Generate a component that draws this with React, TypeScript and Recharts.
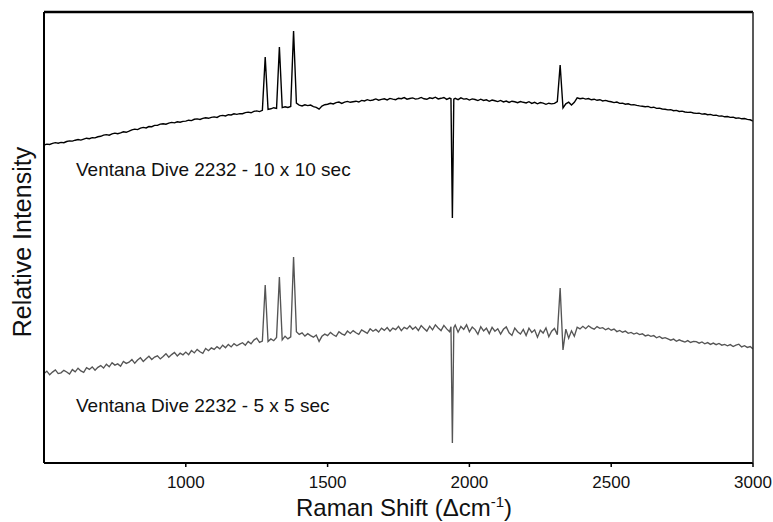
import React from 'react';
import { LineChart, Line, XAxis, YAxis } from 'recharts';

// Raman shift (cm^-1), sampled every 10 cm^-1 (extra samples around the 1940 spike)
const ramanShift = [
  500, 510, 520, 530, 540, 550, 560, 570, 580, 590,
  600, 610, 620, 630, 640, 650, 660, 670, 680, 690,
  700, 710, 720, 730, 740, 750, 760, 770, 780, 790,
  800, 810, 820, 830, 840, 850, 860, 870, 880, 890,
  900, 910, 920, 930, 940, 950, 960, 970, 980, 990,
  1000, 1010, 1020, 1030, 1040, 1050, 1060, 1070, 1080, 1090,
  1100, 1110, 1120, 1130, 1140, 1150, 1160, 1170, 1180, 1190,
  1200, 1210, 1220, 1230, 1240, 1250, 1260, 1270, 1280, 1290,
  1300, 1310, 1320, 1330, 1340, 1350, 1360, 1370, 1380, 1390,
  1400, 1410, 1420, 1430, 1440, 1450, 1460, 1470, 1480, 1490,
  1500, 1510, 1520, 1530, 1540, 1550, 1560, 1570, 1580, 1590,
  1600, 1610, 1620, 1630, 1640, 1650, 1660, 1670, 1680, 1690,
  1700, 1710, 1720, 1730, 1740, 1750, 1760, 1770, 1780, 1790,
  1800, 1810, 1820, 1830, 1840, 1850, 1860, 1870, 1880, 1890,
  1900, 1910, 1920, 1930, 1935, 1940, 1945, 1950, 1960, 1970, 1980, 1990,
  2000, 2010, 2020, 2030, 2040, 2050, 2060, 2070, 2080, 2090,
  2100, 2110, 2120, 2130, 2140, 2150, 2160, 2170, 2180, 2190,
  2200, 2210, 2220, 2230, 2240, 2250, 2260, 2270, 2280, 2290,
  2300, 2310, 2320, 2330, 2340, 2350, 2360, 2370, 2380, 2390,
  2400, 2410, 2420, 2430, 2440, 2450, 2460, 2470, 2480, 2490,
  2500, 2510, 2520, 2530, 2540, 2550, 2560, 2570, 2580, 2590,
  2600, 2610, 2620, 2630, 2640, 2650, 2660, 2670, 2680, 2690,
  2700, 2710, 2720, 2730, 2740, 2750, 2760, 2770, 2780, 2790,
  2800, 2810, 2820, 2830, 2840, 2850, 2860, 2870, 2880, 2890,
  2900, 2910, 2920, 2930, 2940, 2950, 2960, 2970, 2980, 2990,
  3000,
];

// Ventana Dive 2232 - 10 x 10 sec (relative intensity, offset trace)
const topTrace = [
  318, 318.9, 318.5, 319.6, 320.4, 319.8, 320.6, 320.3, 321.5, 322.1,
  321.9, 322.8, 323.5, 322.9, 323.9, 324.8, 324.3, 325.4, 325.1, 326.2,
  326.7, 327.9, 328.4, 327.8, 329.2, 329.9, 329.3, 330.1, 331.2, 330.7,
  331.8, 333.1, 333.9, 333.4, 334.8, 335.6, 335.1, 336.5, 336.3, 337.6,
  337.6, 338.9, 339.3, 338.8, 339.9, 340.6, 340.1, 341.2, 340.8, 341.6,
  341.9, 342.8, 342.4, 343.7, 344.1, 343.5, 344.6, 345.2, 344.7, 345.6,
  346.1, 345.6, 347.2, 347.6, 347.0, 348.3, 348.0, 349.2, 348.6, 349.4,
  349.3, 350.4, 350.9, 350.2, 351.6, 352.1, 351.4, 352.7, 406, 353.6,
  354.2, 355.3, 354.6, 416, 355.4, 356.2, 355.5, 356.6, 432, 359.8,
  357.9, 357.1, 358.2, 357.4, 357.9, 356.4, 355.6, 353.8, 356.9, 358.3,
  358.8, 359.7, 359.1, 360.4, 360.9, 359.6, 360.8, 361.6, 360.7, 361.3,
  361.8, 361.0, 362.6, 362.1, 363.3, 362.4, 363.0, 364.1, 362.8, 363.6,
  364.2, 363.1, 364.6, 363.9, 363.3, 364.8, 364.3, 365.4, 363.8, 364.5,
  365.1, 363.9, 364.4, 365.6, 364.2, 363.7, 365.2, 364.6, 365.8, 364.1,
  364.7, 365.5, 363.6, 364.9, 364.2, 245, 363.8, 364.6, 363.4, 365.1, 363.9, 364.3,
  362.9, 364.1, 363.5, 362.4, 363.8, 362.6, 363.2, 361.7, 362.9, 362.2,
  361.4, 362.6, 361.1, 362.0, 360.6, 361.8, 361.2, 360.3, 361.5, 360.7,
  360.1, 361.3, 359.6, 360.7, 359.2, 360.4, 359.9, 358.7, 359.8, 359.1,
  359.6, 361.5, 398, 355, 359.2, 360.8, 357.9, 360.7, 365.2, 364.3,
  364.8, 363.9, 364.5, 363.2, 363.8, 362.7, 363.3, 362.1, 362.6, 361.8,
  361.2, 360.4, 360.9, 359.6, 359.9, 358.8, 359.2, 358.1, 358.4, 357.6,
  357.1, 356.7, 356.2, 356.6, 355.4, 355.8, 354.6, 354.9, 354.0, 353.7,
  353.1, 353.4, 352.3, 352.6, 351.5, 351.9, 351.0, 350.6, 350.9, 350.0,
  349.6, 349.9, 348.9, 349.2, 348.3, 348.6, 347.6, 347.9, 346.9, 347.1,
  346.2, 346.5, 345.6, 345.9, 344.8, 345.1, 344.2, 344.5, 343.6, 343.2,
  342,
];

// Ventana Dive 2232 - 5 x 5 sec (relative intensity, offset trace)
const bottomTrace = [
  89.5, 91.8, 88.2, 90.9, 93.1, 89.4, 90.2, 92.7, 91.0, 88.9,
  93.4, 91.2, 94.8, 92.1, 90.7, 95.3, 93.6, 96.1, 92.8, 95.7,
  97.4, 94.9, 98.8, 96.2, 100.3, 97.9, 99.1, 96.8, 101.5, 99.6,
  100.8, 103.4, 99.7, 102.9, 105.2, 101.6, 104.3, 106.8, 103.5, 105.9,
  107.2, 104.1, 106.6, 109.3, 105.8, 108.4, 110.6, 107.1, 109.8, 108.2,
  110.9, 108.3, 112.4, 110.1, 113.6, 111.2, 109.7, 114.5, 112.3, 115.1,
  113.6, 116.4, 114.2, 117.8, 115.3, 118.6, 116.1, 119.4, 117.2, 118.9,
  120.3, 117.8, 121.6, 119.2, 122.9, 124.8, 120.7, 121.9, 178, 121.4,
  124.1, 122.3, 125.6, 186, 123.2, 126.8, 124.1, 126.2, 206, 131.3,
  128.6, 130.1, 126.9, 129.3, 127.4, 125.8, 128.0, 121.6, 126.7, 128.9,
  127.4, 130.6, 128.2, 126.7, 131.3, 129.1, 127.8, 131.9, 129.6, 132.4,
  130.2, 128.6, 133.1, 131.4, 129.7, 134.2, 131.8, 133.6, 130.9, 134.8,
  132.6, 135.4, 131.8, 134.9, 133.3, 136.6, 132.4, 135.7, 134.1, 137.2,
  133.8, 136.1, 132.5, 137.4, 134.6, 131.9, 136.8, 133.2, 138.1, 135.0,
  132.4, 137.6, 134.1, 131.2, 136.2, 20, 135.4, 137.9, 130.8, 136.5, 133.6, 138.2,
  131.2, 135.9, 133.4, 128.7, 136.3, 132.1, 134.8, 129.4, 135.6, 131.8,
  134.2, 128.9, 133.7, 136.1, 130.2, 127.6, 134.9, 131.3, 129.0, 133.6,
  127.4, 134.8, 130.6, 133.2, 125.8, 132.7, 129.9, 135.1, 126.3, 131.8,
  134.6, 128.4, 175, 113, 133.9, 124.8, 132.2, 126.7, 135.8, 134.1,
  136.7, 134.3, 137.2, 135.1, 133.8, 136.4, 134.6, 135.3, 133.2, 134.7,
  132.8, 133.9, 131.4, 132.6, 130.8, 131.9, 129.7, 130.6, 128.9, 130.1,
  128.4, 129.2, 127.1, 128.0, 126.6, 127.4, 125.2, 126.5, 124.6, 125.4,
  124.1, 122.8, 123.9, 121.7, 123.2, 122.0, 120.9, 122.4, 120.5, 121.6,
  121.3, 119.8, 121.0, 119.2, 120.4, 118.6, 119.9, 118.3, 119.5, 117.8,
  118.6, 117.2, 118.4, 116.5, 117.9, 118.8, 116.1, 117.3, 115.6, 116.4,
  114,
];

const xTicks = [1000, 1500, 2000, 2500, 3000];
const topLabel = 'Ventana Dive 2232 - 10 x 10 sec';
const bottomLabel = 'Ventana Dive 2232 - 5 x 5 sec';
const yLabel = 'Relative Intensity';

const data = ramanShift.map((s, i) => ({ shift: s, top: topTrace[i], bottom: bottomTrace[i] }));

const FONT = "'Liberation Sans', Arial, Helvetica, sans-serif";

export default function App() {
  return (
    <div style={{ position: 'absolute', left: 0, top: 0, width: 773, height: 522, background: '#fff' }}>
      <LineChart width={773} height={522} data={data} margin={{ top: 11, right: 19, bottom: 0, left: 0 }}>
        <XAxis
          xAxisId="b"
          dataKey="shift"
          type="number"
          domain={[500, 3000]}
          ticks={xTicks}
          allowDataOverflow
          height={59}
          tickSize={4}
          tickMargin={9}
          axisLine={{ stroke: '#000', strokeWidth: 2 }}
          tickLine={{ stroke: '#000', strokeWidth: 1.5 }}
          tick={{ fontSize: 17, fill: '#111', fontFamily: FONT }}
        />
        <XAxis
          xAxisId="t"
          orientation="top"
          dataKey="shift"
          type="number"
          domain={[500, 3000]}
          height={1}
          tick={false}
          tickLine={false}
          axisLine={{ stroke: '#000', strokeWidth: 2.5 }}
        />
        <YAxis
          yAxisId="l"
          type="number"
          domain={[0, 451]}
          width={44}
          tick={false}
          tickLine={false}
          axisLine={{ stroke: '#000', strokeWidth: 2 }}
        />
        <YAxis
          yAxisId="r"
          orientation="right"
          type="number"
          domain={[0, 451]}
          width={1}
          tick={false}
          tickLine={false}
          axisLine={{ stroke: '#222', strokeWidth: 1.5 }}
        />
        <Line
          xAxisId="b"
          yAxisId="l"
          type="linear"
          dataKey="top"
          stroke="#000"
          strokeWidth={1.4}
          dot={false}
          isAnimationActive={false}
        />
        <Line
          xAxisId="b"
          yAxisId="l"
          type="linear"
          dataKey="bottom"
          stroke="#555"
          strokeWidth={1.35}
          dot={false}
          isAnimationActive={false}
        />
      </LineChart>
      <svg
        width={773}
        height={522}
        style={{ position: 'absolute', left: 0, top: 0, pointerEvents: 'none' }}
      >
        <text x={76} y={176} fontSize={19} fontFamily={FONT} fill="#111">{topLabel}</text>
        <text x={76} y={412} fontSize={19} fontFamily={FONT} fill="#111">{bottomLabel}</text>
        <text
          x={31}
          y={242}
          fontSize={25}
          fontFamily={FONT}
          fill="#111"
          textAnchor="middle"
          transform="rotate(-90, 31, 242)"
        >
          {yLabel}
        </text>
        <text x={404} y={516} fontSize={24} fontFamily={FONT} fill="#111" textAnchor="middle">
          Raman Shift (Δcm
          <tspan fontSize={15} dy={-9}>-1</tspan>
          <tspan dy={9}>)</tspan>
        </text>
      </svg>
    </div>
  );
}
